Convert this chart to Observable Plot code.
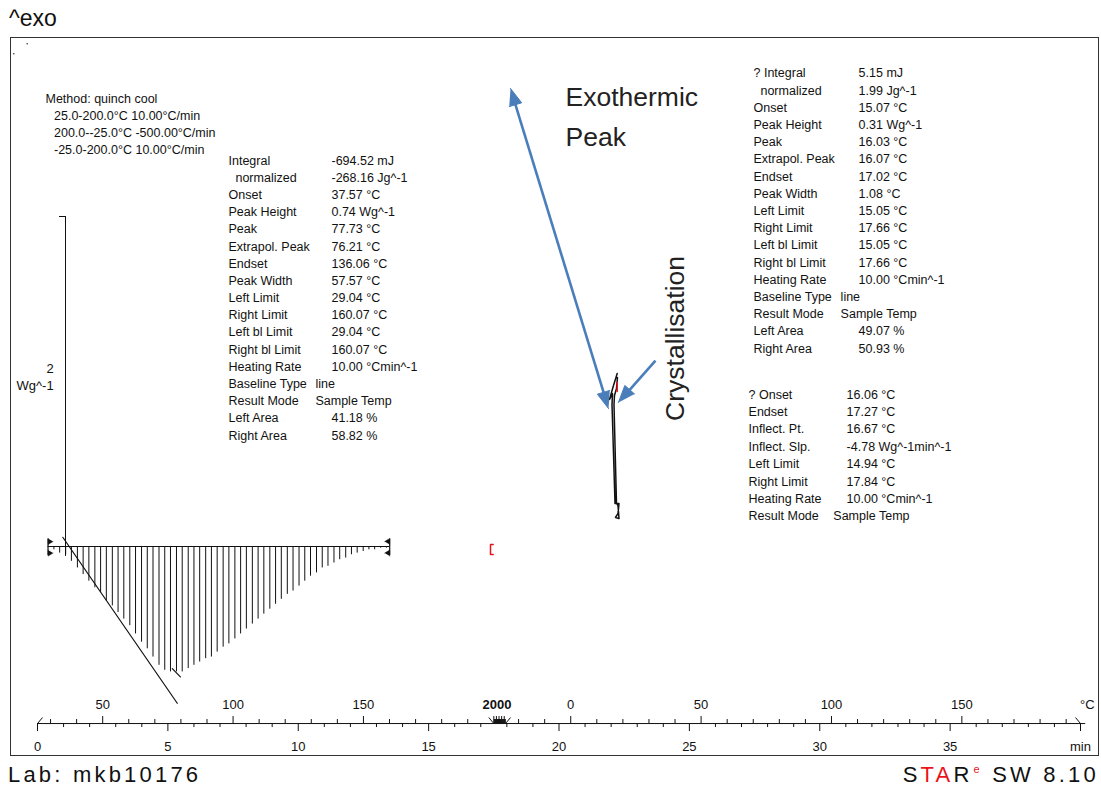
<!DOCTYPE html>
<html><head><meta charset="utf-8">
<script src="https://cdn.jsdelivr.net/npm/d3@7"></script>
<script src="https://cdn.jsdelivr.net/npm/@observablehq/plot@0.6"></script>
<style>
html,body{margin:0;padding:0;background:#fff;}
#wrap{position:relative;width:1101px;height:787px;overflow:hidden;font-family:"Liberation Sans",Arial,sans-serif;}
#chart{position:absolute;left:0;top:0;}
.hdr{position:absolute;color:#111;white-space:nowrap;line-height:1;}
</style></head><body>
<div id="wrap">
<div id="chart"></div>
<div class="hdr" style="left:9px;top:7px;font-size:23px;">^exo</div>
<div class="hdr" style="left:8px;top:764px;font-size:22px;letter-spacing:3.2px;">Lab: mkb10176</div>
<div class="hdr" style="right:2px;top:764px;font-size:22px;letter-spacing:3.2px;">S<span style="color:#e8141b">TA</span>R<span style="color:#e8141b;font-size:11px;position:relative;top:-9px;margin-left:1px;">e</span> SW 8.10</div>
</div>
<script>
// ---------------- data ----------------
// DSC method segments
const methodLines = ["Method: quinch cool", "\u00a025.0-200.0°C 10.00°C/min", "\u00a0200.0--25.0°C -500.00°C/min", "\u00a0-25.0-200.0°C 10.00°C/min"];

// melting (endothermic) peak, first heating: hatch positions (°C) and heat flow (W/g, baseline = 0)
const hatchTemps = [29.0,31.3,33.5,35.8,38.0,40.3,42.5,44.7,47.0,49.2,51.4,53.7,55.9,58.1,60.4,62.6,64.9,67.1,69.3,71.6,73.8,76.0,78.3,80.5,82.8,85.0,87.2,89.5,91.7,93.9,96.2,98.4,100.7,102.9,105.1,107.4,109.6,111.8,114.1,116.3,118.5,120.8,123.0,125.3,127.5,129.7,132.0,134.2,136.4,138.7,140.9,143.2,145.4,147.6,149.9,152.1,154.3,156.6,158.8];
const hatchFlow = [0.00,-0.02,-0.04,-0.05,-0.09,-0.13,-0.17,-0.21,-0.25,-0.28,-0.33,-0.36,-0.40,-0.44,-0.48,-0.53,-0.58,-0.62,-0.67,-0.72,-0.75,-0.76,-0.76,-0.76,-0.74,-0.72,-0.70,-0.68,-0.67,-0.64,-0.61,-0.59,-0.56,-0.53,-0.50,-0.47,-0.44,-0.41,-0.38,-0.35,-0.32,-0.29,-0.27,-0.24,-0.21,-0.18,-0.16,-0.13,-0.12,-0.10,-0.08,-0.07,-0.05,-0.04,-0.03,-0.02,-0.02,-0.01,-0.01];
const peakLimits = [29.04, 160.07];
const tangentTemps = [34.7, 78.6];
const tangentFlow = [0.056, -0.95];
const peakMarkTemps = [76.7, 79.8];
const peakMarkFlow = [-0.74, -0.79];

// crystallisation feature, second heating (time in min, heat flow W/g)
const crystTime = [22.232,22.090,21.937,22.052,22.033,22.148,22.301,22.263,22.167,22.301,22.263,22.205,22.109,22.128,22.205,22.243];
const crystFlow = [1.048,0.976,0.891,0.927,0.861,0.261,0.261,0.200,0.176,0.170,0.248,0.261,0.861,0.915,0.958,1.024];
const crystRedTime = [22.232, 22.232];
const crystRedFlow = [0.994, 0.939];
const redMarkTime = [17.476, 17.373, 17.373, 17.476];
const redMarkFlow = [0.012, 0.012, -0.048, -0.048];

// evaluation tables
const peak1Labels = ["Integral","\u00a0\u00a0normalized","Onset","Peak Height","Peak","Extrapol. Peak","Endset","Peak Width","Left Limit","Right Limit","Left bl Limit","Right bl Limit","Heating Rate","Baseline Type","Result Mode","Left Area","Right Area"];
const peak1Values = ["-694.52 mJ","-268.16 Jg^-1","37.57 °C","0.74 Wg^-1","77.73 °C","76.21 °C","136.06 °C","57.57 °C","29.04 °C","160.07 °C","29.04 °C","160.07 °C","10.00 °Cmin^-1","line","Sample Temp","41.18 %","58.82 %"];
const peak2Labels = ["? Integral","\u00a0\u00a0normalized","Onset","Peak Height","Peak","Extrapol. Peak","Endset","Peak Width","Left Limit","Right Limit","Left bl Limit","Right bl Limit","Heating Rate","Baseline Type","Result Mode","Left Area","Right Area"];
const peak2Values = ["5.15 mJ","1.99 Jg^-1","15.07 °C","0.31 Wg^-1","16.03 °C","16.07 °C","17.02 °C","1.08 °C","15.05 °C","17.66 °C","15.05 °C","17.66 °C","10.00 °Cmin^-1","line","Sample Temp","49.07 %","50.93 %"];
const stepLabels = ["? Onset","Endset","Inflect. Pt.","Inflect. Slp.","Left Limit","Right Limit","Heating Rate","Result Mode"];
const stepValues = ["16.06 °C","17.27 °C","16.67 °C","-4.78 Wg^-1min^-1","14.94 °C","17.84 °C","10.00 °Cmin^-1","Sample Temp"];

// axis labels
const timeLabels = [0,5,10,15,20,25,30,35];
const tempLabelsHeat1 = [50,100,150];
const tempLabelsHeat2 = [0,50,100,150];
const coolLabelHigh = "200", coolLabelLow = "0";

// ---------------- helpers ----------------
const PXT = 1043/40;   // px per minute
const PXV = 165;       // px per W/g
const tHeat1 = T => (T-25)/10;
const tCool  = T => 17.5 + (200-T)/500;
const tHeat2 = T => 17.95 + (T+25)/10;
const px = p => p/PXV;

function tri(tip, from, len, wid, id){
  const dx=(tip.t-from.t)*PXT, dy=-(tip.v-from.v)*PXV;
  const L=Math.hypot(dx,dy), ux=dx/L, uy=dy/L;
  const bx=-ux*len, by=-uy*len, nx=-uy*wid/2, ny=ux*wid/2;
  const toD=(a,b)=>({t: tip.t+a/PXT, v: tip.v-b/PXV, id});
  return {poly:[toD(0,0), toD(bx+nx,by+ny), toD(bx-nx,by-ny)], base: toD(bx*0.7,by*0.7)};
}

// blue annotation arrows
const arrowA = {t:18.14, v:2.776}, arrowB = {t:21.90, v:0.836};
const arrowC = {t:23.70, v:1.127}, arrowD = {t:22.28, v:0.873};
const hA = tri(arrowA, arrowB, 17, 13, "a"), hB = tri(arrowB, arrowA, 17, 13, "b"), hD = tri(arrowD, arrowC, 17, 13, "d");
const heads = [...hA.poly, ...hB.poly, ...hD.poly];
const shafts = [{t1:hA.base.t, v1:hA.base.v, t2:hB.base.t, v2:hB.base.v},{t1:arrowC.t, v1:arrowC.v, t2:hD.base.t, v2:hD.base.v}];

// limit marker triangles
const limitTris = [];
peakLimits.forEach((T,i)=>{
  const t=tHeat1(T), dir = i===0 ? 1 : -1;
  [0.030,-0.040].forEach((v,j)=>{
    const tip={t:t+dir*5/PXT, v}, from={t, v};
    limitTris.push(...tri(tip, from, 5, 6, "l"+i+j).poly);
  });
});

// tables
function rows(labels, values, t0, tv, tn, v0, step){
  const out=[];
  labels.forEach((l,i)=>{
    const v=v0-i*step;
    out.push({t:t0, v, text:l});
    const near = (l==="Baseline Type"||l==="Result Mode");
    out.push({t: near ? tn : tv, v, text: values[i]});
  });
  return out;
}
const tableRows = [
  ...rows(peak1Labels, peak1Values, 7.325, 11.275, 10.66, 2.339, 0.1042),
  ...rows(peak2Labels, peak2Values, 27.46, 31.49, 30.80, 2.867, 0.1042),
  ...rows(stepLabels, stepValues, 27.27, 31.03, 30.52, 0.921, 0.1055)
];
const methodRows = methodLines.map((s,i)=>({t: i===0?0.307:0.50, v: 2.715 - i*0.103, text:s}));

// axis
const axisV = -1.073;
const timeTicks = d3.range(0,41).map(m=>({t:m, major: m%5===0}));
const tempTicks = [];
for (let T=30; T<=200; T+=10) tempTicks.push({t:tHeat1(T), major:T%50===0});
for (let T=190; T>=-20; T-=10) tempTicks.push({t:tCool(T), major:T%50===0});
for (let T=-20; T<=190; T+=10) { const t=tHeat2(T); if (t<=40) tempTicks.push({t, major:T%50===0}); }
const tempLabelData = [
  ...tempLabelsHeat1.map(T=>({t:tHeat1(T), text:String(T)})),
  ...tempLabelsHeat2.map(T=>({t:tHeat2(T), text:String(T)})),
  {t:40.26, text:"°C"}
];
const timeLabelData = [...timeLabels.map(m=>({t:m, text:String(m)})), {t:40, text:"min"}];
const segStarts = [0, 17.95], segEnds = [17.5, 40];
const endMarks = [
  ...segStarts.map(t=>({t1:t, v1:axisV, t2:t+5/PXT, v2:axisV+px(6)})),
  ...segEnds.map(t=>({t1:t-5/PXT, v1:axisV+px(6), t2:t, v2:axisV}))
];

const hatch = hatchTemps.map((T,i)=>({t:tHeat1(T), v:hatchFlow[i]}));
const tangent = tangentTemps.map((T,i)=>({t:tHeat1(T), v:tangentFlow[i]}));
const peakMark = peakMarkTemps.map((T,i)=>({t:tHeat1(T), v:peakMarkFlow[i]}));
const cryst = crystTime.map((t,i)=>({t, v:crystFlow[i]}));
const crystRed = crystRedTime.map((t,i)=>({t, v:crystRedFlow[i]}));
const redMark = redMarkTime.map((t,i)=>({t, v:redMarkFlow[i]}));
const cornerDots = [{t:-0.395, v:3.047},{t:-0.909, v:2.986}];

const BLUE = "#4a7ebb";
const plot = Plot.plot({
  width: 1101, height: 787,
  marginLeft: 10, marginRight: 3, marginTop: 37, marginBottom: 32,
  x: {domain:[0,40], range:[37,1080], axis:null},
  y: {domain:[-1,2], range:[711,216], axis:null},
  style: {fontFamily:"'Liberation Sans', Arial, sans-serif", background:"transparent", color:"#111"},
  marks: [
    Plot.frame({stroke:"#333", strokeWidth:1}),
    Plot.dot(cornerDots, {x:"t", y:"v", r:0.8, fill:"#333", stroke:null}),
    // y scale bar (0 .. 2 W/g)
    Plot.ruleX([{t:1.074}], {x:"t", y1:-0.06, y2:2, stroke:"#111"}),
    Plot.ruleY([{v:2}], {y:"v", x1:0.844, x2:1.074, stroke:"#111"}),
    Plot.text([{t:0.62, v:1.079, s:"2"},{t:0.62, v:0.976, s:"Wg^-1"}], {x:"t", y:"v", text:"s", textAnchor:"end", fontSize:13}),
    // melting peak: baseline + hatching
    Plot.ruleY([0], {x1:tHeat1(peakLimits[0]), x2:tHeat1(peakLimits[1]), stroke:"#111"}),
    Plot.ruleX(hatch, {x:"t", y1:0, y2:"v", stroke:"#111", strokeWidth:1}),
    Plot.ruleX(peakLimits.map(T=>({t:tHeat1(T)})), {x:"t", y1:0.045, y2:-0.055, stroke:"#111", strokeWidth:1.2}),
    Plot.line(limitTris, {x:"t", y:"v", z:"id", fill:"#111", stroke:"#111", strokeWidth:0.5}),
    Plot.line(tangent, {x:"t", y:"v", stroke:"#111", strokeWidth:1.2}),
    Plot.line(peakMark, {x:"t", y:"v", stroke:"#111", strokeWidth:1.2}),
    // red mark
    Plot.line(redMark, {x:"t", y:"v", stroke:"#e8141b", strokeWidth:1.5}),
    // crystallisation
    Plot.line(cryst, {x:"t", y:"v", stroke:"#111", strokeWidth:1.5}),
    Plot.line(crystRed, {x:"t", y:"v", stroke:"#e8141b", strokeWidth:1.5}),
    // blue arrows
    Plot.link(shafts, {x1:"t1", y1:"v1", x2:"t2", y2:"v2", stroke:BLUE, strokeWidth:2.6}),
    Plot.line(heads, {x:"t", y:"v", z:"id", fill:BLUE, stroke:BLUE, strokeWidth:1}),
    // annotation labels
    Plot.text([{t:20.25, v:2.721, s:"Exothermic"},{t:20.25, v:2.479, s:"Peak"}], {x:"t", y:"v", text:"s", textAnchor:"start", fontSize:26.5, fill:"#222"}),
    Plot.text([{t:24.47, v:1.261, s:"Crystallisation"}], {x:"t", y:"v", text:"s", rotate:-90, fontSize:26.5, fill:"#222"}),
    // tables
    Plot.text(methodRows, {x:"t", y:"v", text:"text", textAnchor:"start", fontSize:12.5}),
    Plot.text(tableRows, {x:"t", y:"v", text:"text", textAnchor:"start", fontSize:12.5}),
    // axes
    Plot.ruleY([axisV], {x1:0, x2:40.2, stroke:"#111"}),
    Plot.ruleX(timeTicks, {x:"t", y1:axisV, y2:d=>axisV-px(d.major?8:4), stroke:"#111"}),
    Plot.ruleX(tempTicks, {x:"t", y1:axisV, y2:d=>axisV+px(d.major?7:4), stroke:"#111"}),
    Plot.link(endMarks, {x1:"t1", y1:"v1", x2:"t2", y2:"v2", stroke:"#111"}),
    Plot.text(tempLabelData, {x:"t", y:-0.9576, text:"text", fontSize:13}),
    // overlapping labels of the fast cooling segment (200 ... 0) rendered side by side
    Plot.text([{t:tCool(0), text:coolLabelHigh}], {x:"t", y:-0.9576, text:"text", textAnchor:"end", fontSize:13, fontWeight:"bold"}),
    Plot.text([{t:tCool(0), text:coolLabelLow}], {x:"t", y:-0.9576, text:"text", textAnchor:"start", fontSize:13, fontWeight:"bold"}),
    Plot.text(timeLabelData, {x:"t", y:-1.2121, text:"text", fontSize:13})
  ]
});
document.getElementById("chart").appendChild(plot);
</script>
</body></html>
